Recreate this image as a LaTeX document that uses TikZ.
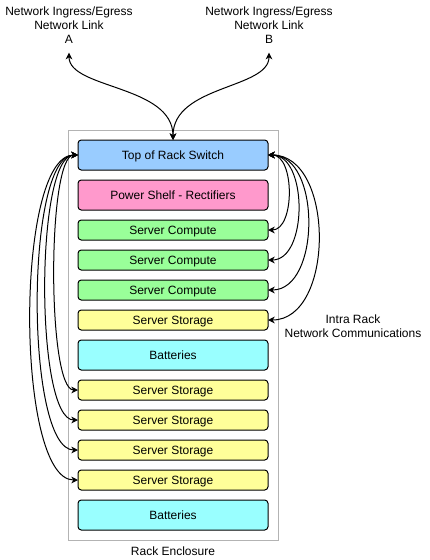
\documentclass[tikz,border=0pt]{standalone}
\usepackage{fontspec}
\setmainfont{Liberation Sans}
\usetikzlibrary{arrows.meta}
\definecolor{torblue}{HTML}{99CCFF}
\definecolor{psupink}{HTML}{FF99CC}
\definecolor{compgreen}{HTML}{99FF99}
\definecolor{storyellow}{HTML}{FFFF99}
\definecolor{battcyan}{HTML}{99FFFF}
\definecolor{rackgray}{HTML}{B3B3B3}
\tikzset{%
    unit/.style={draw, line width=0.75pt, rounded corners=2.5pt,
        minimum width=142.5pt, inner sep=0pt, outer sep=0pt,
        text height=6.2pt, text depth=0pt,
        font=\fontsize{9}{11}\selectfont},
    tall/.style={unit, minimum height=22.5pt},
    short/.style={unit, minimum height=15pt},
    lbl/.style={align=center, inner sep=0pt, font=\fontsize{9}{10.5}\selectfont},
    link/.style={line width=0.75pt, {Stealth[length=5pt,width=5pt,inset=1.5pt]}-{Stealth[length=5pt,width=5pt,inset=1.5pt]}}
}

\begin{document}
\begin{tikzpicture}[x=0.75pt,y=-0.75pt]
\useasboundingbox (0,0) rectangle (429,560);

% rack enclosure
\node[draw=rackgray, line width=0.75pt, minimum width=157.5pt, minimum height=307.5pt, inner sep=0pt] (rack) at (173,335) {};
\node[lbl] (racklbl) at (173,551) {Rack Enclosure};

% rack contents, top to bottom
\node[tall, fill=torblue] (tor) at (173,155) {Top of Rack Switch};
\node[tall, fill=psupink] (psu) at (173,195) {Power Shelf - Rectifiers};
\node[short, fill=compgreen] (c1) at (173,230) {Server Compute};
\node[short, fill=compgreen] (c2) at (173,260) {Server Compute};
\node[short, fill=compgreen] (c3) at (173,290) {Server Compute};
\node[short, fill=storyellow] (s0) at (173,320) {Server Storage};
\node[tall, fill=battcyan] (b1) at (173,355) {Batteries};
\node[short, fill=storyellow] (s1) at (173,390) {Server Storage};
\node[short, fill=storyellow] (s2) at (173,420) {Server Storage};
\node[short, fill=storyellow] (s3) at (173,450) {Server Storage};
\node[short, fill=storyellow] (s4) at (173,480) {Server Storage};
\node[tall, fill=battcyan] (b2) at (173,515) {Batteries};

% uplinks
\node[lbl, anchor=south] (upA) at (69,44) {Network Ingress/Egress\\Network Link\\A};
\node[lbl, anchor=south] (upB) at (269,44) {Network Ingress/Egress\\Network Link\\B};
\draw[link, shorten >=6.5pt] (tor.north) .. controls +(0,-55) and +(0,45) .. (upA.south);
\draw[link, shorten >=6.5pt] (tor.north) .. controls +(0,-55) and +(0,45) .. (upB.south);

% intra rack links, right side
\draw[link] (tor.east) .. controls +(27,0) and +(27,0) .. (c1.east);
\draw[link] (tor.east) .. controls +(40,0) and +(40,0) .. (c2.east);
\draw[link] (tor.east) .. controls +(53,0) and +(53,0) .. (c3.east);
\draw[link] (tor.east) .. controls +(67,0) and +(67,0) .. (s0.east);
\node[lbl] (intra) at (353,326) {Intra Rack\\Network Communications};

% intra rack links, left side
\draw[link] (tor.west) .. controls +(-31,0) and +(-31,0) .. (s1.west);
\draw[link] (tor.west) .. controls +(-43,0) and +(-43,0) .. (s2.west);
\draw[link] (tor.west) .. controls +(-53,0) and +(-53,0) .. (s3.west);
\draw[link] (tor.west) .. controls +(-63,0) and +(-63,0) .. (s4.west);
\end{tikzpicture}
\end{document}
